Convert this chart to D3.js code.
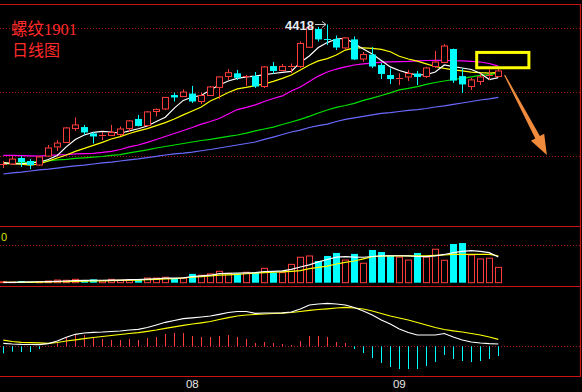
<!DOCTYPE html>
<html><head><meta charset="utf-8">
<script src="https://cdn.jsdelivr.net/npm/d3@7"></script>
<style>html,body{margin:0;padding:0;background:#000;}svg{display:block;}</style>
</head><body>
<svg id="c" width="582" height="392"></svg>
<script>
// ---- data ----
const open  = [3759,3764,3792,3778,3759,3801,3844,3865,3930,3937,3907,3893,3898,3902,3930,3975,3944,4010,4022,4087,4080,4094,4057,4085,4123,4174,4189,4172,4176,4127,4223,4202,4214,4221,4311,4397,4350,4350,4308,4348,4256,4277,4228,4181,4160,4172,4188,4174,4221,4240,4303,4176,4127,4151,4174,4174];
const high  = [3778,3801,3801,3787,3801,3853,3876,3937,3982,3947,3914,3914,3947,3940,3970,3994,4012,4024,4078,4099,4113,4130,4097,4130,4174,4209,4205,4181,4195,4223,4242,4233,4235,4338,4410,4406,4418,4366,4357,4362,4289,4312,4237,4212,4189,4205,4200,4219,4294,4326,4305,4212,4167,4188,4207,4212];
const low   = [3745,3759,3750,3740,3755,3797,3825,3862,3919,3900,3860,3876,3895,3895,3914,3940,3940,3987,4017,4057,4078,4050,4045,4083,4069,4158,4158,4130,4120,4120,4186,4200,4190,4214,4308,4338,4322,4298,4303,4251,4243,4214,4162,4139,4134,4153,4134,4167,4214,4237,4144,4097,4111,4134,4158,4172];
const close = [3762,3787,3773,3759,3797,3839,3862,3933,3947,3912,3893,3898,3912,3928,3966,3942,4008,4020,4076,4076,4101,4057,4085,4125,4172,4192,4168,4176,4127,4219,4200,4221,4221,4329,4404,4348,4348,4310,4355,4254,4277,4221,4186,4162,4165,4188,4172,4214,4242,4317,4155,4137,4158,4172,4179,4200];
const ma5   = [3769,3766,3765,3769,3772,3785,3804,3844,3879,3900,3912,3917,3914,3908,3919,3929,3942,3963,3983,4026,4062,4078,4085,4111,4134,4153,4165,4172,4176,4183,4188,4193,4198,4240,4270,4310,4333,4350,4353,4329,4303,4280,4249,4219,4202,4190,4181,4183,4195,4228,4220,4214,4207,4189,4160,4169];
const ma10  = [3771,3766,3763,3759,3764,3778,3792,3806,3823,3837,3851,3865,3881,3892,3907,3919,3930,3944,3958,3975,3994,4012,4031,4059,4078,4099,4116,4123,4131,4139,4151,4165,4181,4205,4228,4247,4258,4275,4298,4308,4308,4306,4301,4290,4269,4256,4246,4233,4221,4212,4205,4200,4195,4192,4190,4193];
const ma20  = [3804,3804,3803,3802,3801,3804,3806,3808,3811,3813,3814,3818,3823,3832,3844,3853,3865,3879,3893,3907,3921,3935,3951,3963,3977,3998,4019,4029,4041,4057,4071,4083,4106,4125,4151,4176,4195,4209,4219,4228,4233,4237,4241,4243,4244,4245,4247,4249,4250,4250,4248,4247,4245,4242,4235,4223];
const ma40  = [3763,3766,3770,3773,3776,3779,3783,3786,3790,3793,3796,3799,3804,3808,3816,3823,3830,3839,3846,3853,3860,3867,3874,3879,3886,3893,3900,3909,3919,3928,3937,3949,3961,3973,3987,4003,4017,4029,4038,4048,4062,4073,4085,4097,4111,4118,4127,4137,4146,4153,4160,4165,4172,4179,4183,4190];
const ma60  = [3717,3722,3726,3731,3736,3740,3745,3750,3755,3759,3764,3769,3773,3778,3783,3788,3794,3800,3806,3811,3815,3820,3826,3832,3839,3846,3853,3860,3867,3879,3890,3902,3914,3923,3935,3944,3951,3963,3973,3980,3987,3994,4001,4005,4010,4015,4019,4024,4031,4036,4043,4050,4057,4064,4069,4076];
const volume   = [5,3,9,3,4,9,14,13,18,11,18,11,18,13,14,20,25,25,29,20,24,47,40,47,61,50,50,56,56,77,54,54,98,136,143,116,143,159,121,154,104,175,164,144,137,121,159,137,179,120,207,212,148,127,131,82];
const volMa5   = [2,2,3,4,5,6,7,9,11,12,13,13,14,14,16,17,19,21,24,24,26,33,36,40,49,50,52,53,54,60,61,63,71,84,95,111,124,137,139,137,136,140,143,144,144,143,140,139,143,151,161,167,171,167,161,137];
const volMa10  = [2,2,2,2,3,4,5,6,7,8,9,10,11,12,13,14,16,18,20,22,25,29,32,36,40,42,45,48,51,54,56,58,61,65,75,82,89,100,109,116,127,139,142,143,143,143,143,144,146,148,151,152,152,152,151,144];
const dif      = [3.0,2.3,1.9,1.8,1.6,2.7,5.3,9.0,12.0,13.3,14.0,14.3,14.8,15.3,16.3,17.0,18.8,21.3,24.0,25.8,27.6,28.5,29.3,30.3,32.0,33.8,34.8,34.8,33.0,33.3,33.3,33.5,34.3,37.3,41.3,42.3,43.0,42.3,41.3,38.8,35.3,31.3,26.3,22.3,17.3,13.8,11.3,11.3,11.3,12.8,9.3,6.3,4.3,3.3,2.6,2.3];
const dea      = [6.1,4.8,4.0,3.7,3.4,3.0,3.8,5.3,6.5,7.7,8.8,9.8,10.8,11.8,12.8,13.7,15.0,16.3,18.0,19.5,21.0,22.3,23.5,24.8,26.8,28.6,30.3,31.3,31.8,32.3,32.8,33.1,33.8,34.8,36.0,36.8,37.5,38.3,39.0,38.3,37.3,35.3,32.8,30.3,28.3,26.3,23.8,21.3,18.8,16.8,15.5,14.3,12.8,11.3,9.3,7.0];
const macdHist = [-7,-5.4,-5.7,-5.7,-2.7,0.3,3,9,12,11.3,9,7.3,6.3,6.3,7.3,6.3,8.3,9.3,12.3,13.3,13.3,10.3,9.3,9.3,10.3,11.3,9.3,7.3,3.3,4.3,3.3,2.3,1.3,5.3,10.3,10.3,9.3,4.3,3.3,-2.7,-6.7,-11.7,-16.7,-20.7,-22.7,-22.7,-22.7,-19.7,-15.7,-8.7,-12.7,-14.7,-15.7,-14.7,-12.7,-9.7];
const monthLabels = ["08","09"];
const monthStartIndex = [21,44];
const titleLines = ["螺纹1901","日线图"];

// ---- drawing ----
const svg = d3.select("#c");
const W = 582, H = 392;
const RED = "#ff3c3c", CYAN = "#00ffff", BORDER = "#c81414", GRID = "#a01818";
svg.append("rect").attr("width",W).attr("height",H).attr("fill","#000");

const n = close.length;
const x = d3.scaleLinear().domain([0, n-1]).range([3.3, 3.3 + 9*(n-1)]);
const px = i => Math.round(x(i));
const y = d3.scaleLinear().domain([3800, 4400]).range([156.3, 28.3]);
const yv = d3.scaleLinear().domain([0, 200]).range([282.7, 245.3]);
const ym = d3.scaleLinear().domain([0, 30]).range([346.3, 316.3]);

// grid lines (dotted)
[y(4400), y(4100), y(3800), yv(200), ym(0)].forEach(gy=>{
  svg.append("line").attr("x1",0).attr("x2",580).attr("y1",Math.round(gy)+0.5).attr("y2",Math.round(gy)+0.5)
    .attr("stroke",GRID).attr("stroke-width",1).attr("stroke-dasharray","1,2");
});

// panel borders
[4, 226, 286, 376].forEach(by=>{
  svg.append("line").attr("x1",0).attr("x2",581).attr("y1",by+0.5).attr("y2",by+0.5)
    .attr("stroke",BORDER).attr("stroke-width",1.2);
});
svg.append("line").attr("x1",580.5).attr("x2",580.5).attr("y1",4).attr("y2",377)
  .attr("stroke",BORDER).attr("stroke-width",1.2);

// moving averages (price)
const line = sc => d3.line().x((d,i)=>x(i)).y(d=>sc(d));
const maSeries = [[ma60,"#6a6aff"],[ma40,"#00e000"],[ma20,"#ff00ff"],[ma10,"#ffff00"],[ma5,"#ffffff"]];
maSeries.forEach(([arr,col])=>{
  svg.append("path").attr("d",line(y)(arr)).attr("fill","none").attr("stroke",col).attr("stroke-width",1.2);
});

// candles
const cg = svg.append("g");
d3.range(n).forEach(i=>{
  const cx = px(i)+0.5;
  const up = close[i] >= open[i];
  const col = up ? RED : CYAN;
  const top = y(Math.max(open[i],close[i])), bot = y(Math.min(open[i],close[i]));
  if (up) {
    cg.append("line").attr("x1",cx).attr("x2",cx).attr("y1",y(high[i])).attr("y2",top).attr("stroke",col);
    cg.append("line").attr("x1",cx).attr("x2",cx).attr("y1",bot).attr("y2",y(low[i])).attr("stroke",col);
  } else {
    cg.append("line").attr("x1",cx).attr("x2",cx).attr("y1",y(high[i])).attr("y2",y(low[i])).attr("stroke",col);
  }
  const h = bot - top;
  if (h < 1.5) {
    cg.append("line").attr("x1",cx-3.5).attr("x2",cx+3.5).attr("y1",Math.round(top)+0.5).attr("y2",Math.round(top)+0.5).attr("stroke",col);
  } else if (up) {
    cg.append("rect").attr("x",cx-3).attr("y",top).attr("width",6).attr("height",h)
      .attr("fill","#000").attr("stroke",col).attr("stroke-width",1);
  } else {
    cg.append("rect").attr("x",cx-3.5).attr("y",top).attr("width",7).attr("height",h).attr("fill",col);
  }
});

// volume bars
const vg = svg.append("g");
d3.range(n).forEach(i=>{
  const cx = px(i)+0.5;
  const up = close[i] >= open[i];
  const t = yv(volume[i]), b = yv(0);
  if (up) {
    vg.append("rect").attr("x",cx-3).attr("y",t).attr("width",6).attr("height",Math.max(0.5,b-t))
      .attr("fill","#000").attr("stroke",RED).attr("stroke-width",1);
  } else {
    vg.append("rect").attr("x",cx-3.5).attr("y",t).attr("width",7).attr("height",b-t).attr("fill",CYAN);
  }
});
svg.append("path").attr("d",line(yv)(volMa10)).attr("fill","none").attr("stroke","#ffff00").attr("stroke-width",1.2);
svg.append("path").attr("d",line(yv)(volMa5)).attr("fill","none").attr("stroke","#ffffff").attr("stroke-width",1.2);
svg.append("text").attr("x",1).attr("y",241).attr("fill","#d8e000").attr("font-family","Liberation Sans")
  .attr("font-size",11).text("0");

// MACD
const mg = svg.append("g");
d3.range(n).forEach(i=>{
  const cx = px(i)+0.5;
  mg.append("line").attr("x1",cx).attr("x2",cx).attr("y1",ym(0)).attr("y2",ym(macdHist[i]))
    .attr("stroke", macdHist[i] >= 0 ? RED : CYAN).attr("stroke-width",1);
});
svg.append("path").attr("d",line(ym)(dea)).attr("fill","none").attr("stroke","#ffff00").attr("stroke-width",1.2);
svg.append("path").attr("d",line(ym)(dif)).attr("fill","none").attr("stroke","#ffffff").attr("stroke-width",1.2);

// month labels
monthLabels.forEach((lab,k)=>{
  svg.append("text").attr("x",x(monthStartIndex[k])).attr("y",388).attr("text-anchor","middle")
    .attr("fill","#e8e8e8").attr("font-family","Liberation Sans").attr("font-size",11.5).text(lab);
});

// title
svg.append("text").attr("x",11).attr("y",34.5).attr("fill","#ff2a2a")
  .attr("font-family","'Liberation Serif','Noto Sans CJK SC'").attr("font-size",16.5).text(titleLines[0]);
svg.append("text").attr("x",12).attr("y",56).attr("fill","#ff2a2a")
  .attr("font-family","'Noto Sans CJK SC'").attr("font-size",16).text(titleLines[1]);

// highest price label with arrow
const hiI = d3.maxIndex(high);
const hx = px(hiI), hy = y(high[hiI]);
svg.append("text").attr("x",hx-13).attr("y",hy+6).attr("text-anchor","end").attr("fill","#e6ecf4")
  .attr("font-family","Liberation Sans").attr("font-weight","bold").attr("font-size",13).text(String(high[hiI]));
svg.append("line").attr("x1",hx-12).attr("x2",hx-1).attr("y1",Math.round(hy)+0.5).attr("y2",Math.round(hy)+0.5)
  .attr("stroke","#c8c8c8").attr("stroke-width",1);
svg.append("path").attr("d",`M${hx-1},${Math.round(hy)+0.5} l-4,-3 M${hx-1},${Math.round(hy)+0.5} l-4,3`)
  .attr("stroke","#c8c8c8").attr("fill","none");

// annotation: yellow box and orange arrow
const box = {i0:52.6, i1:58.4, p0:4215, p1:4287};
svg.append("rect").attr("x",x(box.i0)).attr("y",y(box.p1)).attr("width",x(box.i1)-x(box.i0)).attr("height",y(box.p0)-y(box.p1))
  .attr("fill","none").attr("stroke","#ffff00").attr("stroke-width",3);
const arrow = {i0:55.7, p0:4181, i1:60.4, p1:3806};
const t0 = [x(arrow.i0), y(arrow.p0)], t1 = [x(arrow.i1), y(arrow.p1)];
const dx = t1[0]-t0[0], dy = t1[1]-t0[1], L = Math.hypot(dx,dy);
const u = [dx/L, dy/L], nrm = [u[1], -u[0]];
const base = [t1[0]-u[0]*20, t1[1]-u[1]*20];
const P = (p,s)=>[p[0]+nrm[0]*s, p[1]+nrm[1]*s];
const pts = [P(t0,0.6), P(base,2.6), P(base,7.5), t1, P(base,-7.5), P(base,-2.6), P(t0,-0.6)];
svg.append("path").attr("d","M"+pts.map(p=>p.join(",")).join("L")+"Z").attr("fill","#f08a3c");
</script>
</body></html>
